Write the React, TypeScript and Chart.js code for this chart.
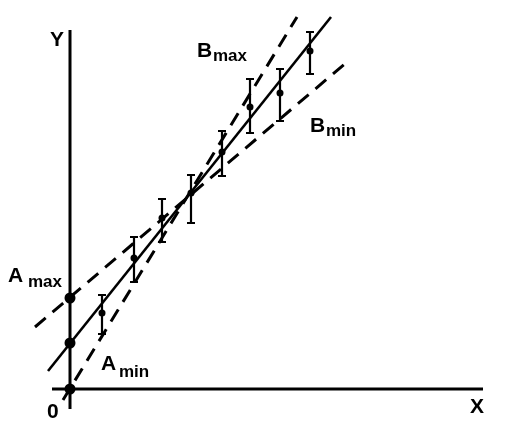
import React, { useEffect, useRef } from "react";
import { Chart, registerables } from "chart.js";

Chart.register(...registerables);

// Measurements (arbitrary units)
const pointX = [3.2, 6.4, 9.2, 12.1, 15.2, 18.0, 21.0, 24.0];
const pointY = [7.6, 13.1, 17.1, 19.6, 23.7, 28.2, 29.6, 33.8];
const errUpper = [9.4, 15.2, 19.0, 21.4, 25.8, 31.0, 32.0, 35.7];
const errLower = [5.5, 10.7, 14.7, 16.6, 21.3, 25.6, 26.8, 31.5];

// Intercepts on the Y axis: A_min, A, A_max
const interceptY = [0, 4.6, 9.1];

// Lines (two end points each: x values, y values)
const fitX = [-2.2, 26.1];
const fitY = [1.8, 37.2];
const bMaxX = [-0.7, 22.7];
const bMaxY = [-1.1, 37.2];
const bMinX = [-3.5, 27.7];
const bMinY = [6.2, 32.7];

// Axes extents
const xAxisX = [-1.8, 41.3];
const yAxisY = [-2.0, 35.9];

const pairs = (xs: number[], ys: number[]) => xs.map((x, i) => ({ x, y: ys[i] }));

const FONT = '"Liberation Sans", Arial, sans-serif';

const overlay = {
  id: "overlay",
  afterDatasetsDraw(chart: any) {
    const { ctx } = chart;
    const xs = chart.scales.x;
    const ys = chart.scales.y;
    const px = (v: number) => xs.getPixelForValue(v);
    const py = (v: number) => ys.getPixelForValue(v);
    ctx.save();
    // error bars
    ctx.strokeStyle = "#000";
    ctx.lineWidth = 2.2;
    const cap = 4;
    pointX.forEach((x, i) => {
      const cx = px(x);
      const top = py(errUpper[i]);
      const bot = py(errLower[i]);
      ctx.beginPath();
      ctx.moveTo(cx, top);
      ctx.lineTo(cx, bot);
      ctx.moveTo(cx - cap, top);
      ctx.lineTo(cx + cap, top);
      ctx.moveTo(cx - cap, bot);
      ctx.lineTo(cx + cap, bot);
      ctx.stroke();
    });
    // labels
    ctx.fillStyle = "#000";
    ctx.textBaseline = "alphabetic";
    ctx.textAlign = "left";
    const big = `bold 21px ${FONT}`;
    const small = `bold 17px ${FONT}`;
    const txt = (s: string, x: number, y: number, f: string) => {
      ctx.font = f;
      ctx.fillText(s, px(x), py(y));
    };
    txt("Y", -2.0, 34.3, big);
    txt("X", 40.0, -2.4, big);
    txt("0", -2.3, -2.9, big);
    txt("B", 12.7, 33.2, big);
    txt("max", 14.3, 32.8, small);
    txt("B", 24.0, 25.7, big);
    txt("min", 25.6, 25.3, small);
    txt("A", -6.2, 10.7, big);
    txt("max", -4.2, 10.2, small);
    txt("A", 3.1, 1.9, big);
    txt("min", 4.9, 1.2, small);
    ctx.restore();
  },
};

export default function App() {
  const ref = useRef<HTMLCanvasElement | null>(null);
  useEffect(() => {
    if (!ref.current) return;
    const line = (data: any[], width: number, dash: number[] = []) => ({
      data,
      showLine: true,
      borderColor: "#000",
      borderWidth: width,
      borderDash: dash,
      pointRadius: 0,
      pointHoverRadius: 0,
      fill: false,
    });
    const chart = new Chart(ref.current, {
      type: "scatter",
      data: {
        datasets: [
          line(pairs([0, 0], yAxisY), 3),
          line(pairs(xAxisX, [0, 0]), 3),
          line(pairs(fitX, fitY), 2.6),
          line(pairs(bMaxX, bMaxY), 3, [14, 9]),
          line(pairs(bMinX, bMinY), 3, [14, 9]),
          {
            data: interceptY.map((y) => ({ x: 0, y })),
            showLine: false,
            pointRadius: 5.5,
            pointHoverRadius: 5.5,
            pointBackgroundColor: "#000",
            pointBorderColor: "#000",
            pointBorderWidth: 0,
          },
          {
            data: pairs(pointX, pointY),
            showLine: false,
            pointRadius: 3.5,
            pointHoverRadius: 3.5,
            pointBackgroundColor: "#000",
            pointBorderColor: "#000",
            pointBorderWidth: 0,
          },
        ] as any,
      },
      options: {
        animation: false,
        responsive: false,
        events: [],
        layout: { padding: 0, autoPadding: false },
        plugins: { legend: { display: false }, tooltip: { enabled: false } },
        scales: {
          x: { type: "linear", display: false, min: -7, max: 45 },
          y: { type: "linear", display: false, min: -5.3, max: 38.9 },
        },
      },
      plugins: [overlay],
    });
    return () => chart.destroy();
  }, []);
  return (
    <div style={{ position: "fixed", left: 0, top: 0, width: 520, height: 442, background: "#fff" }}>
      <canvas ref={ref} width={520} height={442} style={{ display: "block" }} />
    </div>
  );
}
